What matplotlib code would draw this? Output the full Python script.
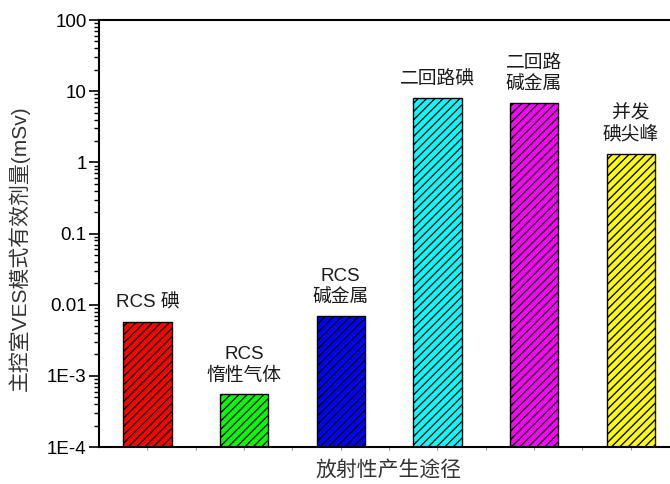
import matplotlib
matplotlib.use("Agg")
import matplotlib.pyplot as plt
from matplotlib.ticker import FixedLocator, FixedFormatter, LogLocator, NullFormatter

plt.rcParams['font.family'] = ['Liberation Sans', 'Noto Sans CJK SC']
plt.rcParams['hatch.linewidth'] = 1.0
plt.rcParams['hatch.color'] = 'black'

# 各放射性产生途径下的剂量
labels = ["RCS 碘", "RCS\n惰性气体", "RCS\n碱金属", "二回路碘", "二回路\n碱金属", "并发\n碘尖峰"]
doses = [0.0058, 0.00055, 0.0070, 8.1, 6.85, 1.33]
colors = ["#FF0000", "#00FF00", "#0000FF", "#00FFFF", "#FF00FF", "#FFFF00"]

ytick_values = [1e-4, 1e-3, 0.01, 0.1, 1, 10, 100]
ytick_labels = ["1E-4", "1E-3", "0.01", "0.1", "1", "10", "100"]

fig = plt.figure(figsize=(6.7, 4.84), dpi=100)
# 坐标区右侧延伸到画布外
ax = fig.add_axes([0.1478, 0.0764, 0.8657, 0.8822])

x = list(range(1, len(doses) + 1))
bars = ax.bar(x, doses, width=0.5, color=colors, edgecolor='black',
              linewidth=1.0, hatch='////')

for xi, d, lab in zip(x, doses, labels):
    ax.annotate(lab, xy=(xi, d), xytext=(0, 7), textcoords='offset points',
                ha='center', va='bottom', fontsize=13.5, color='#1a1a1a',
                linespacing=1.3)

ax.set_yscale('log')
ax.set_ylim(1e-4, 100)
ax.set_xlim(0.5, 6.5)

ax.yaxis.set_major_locator(FixedLocator(ytick_values))
ax.yaxis.set_major_formatter(FixedFormatter(ytick_labels))
ax.yaxis.set_minor_locator(LogLocator(base=10, subs=range(2, 10), numticks=20))
ax.yaxis.set_minor_formatter(NullFormatter())
ax.tick_params(axis='y', which='major', direction='out', length=7, width=1.2,
               labelsize=13.5, pad=2)
ax.tick_params(axis='y', which='minor', direction='out', length=3.5, width=1.0)

ax.set_xticks(x)
ax.set_xticks([i + 0.5 for i in x[:-1]], minor=True)
ax.set_xticklabels([])
ax.tick_params(axis='x', which='both', direction='out', length=2, width=0.8,
               color='#999999')

for side in ['left', 'top', 'bottom', 'right']:
    ax.spines[side].set_linewidth(1.5)

ax.set_ylabel("主控室VES模式有效剂量(mSv)", fontsize=15, color='#333333')
ax.yaxis.set_label_coords(-0.119, 0.465)
ax.set_xlabel("放射性产生途径", fontsize=15, color='#333333', labelpad=4)

fig.savefig("out.png", dpi=100)
